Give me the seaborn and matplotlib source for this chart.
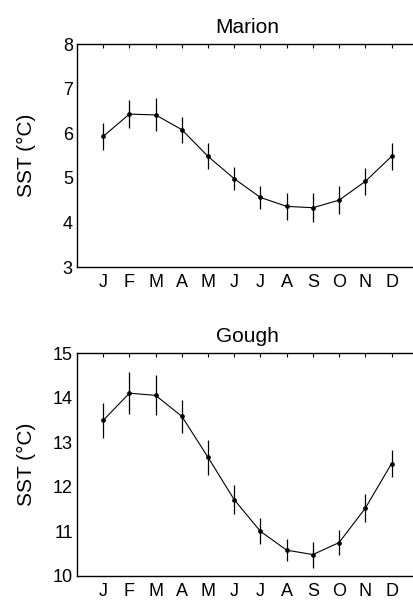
import numpy as np
import pandas as pd
import seaborn as sns
import matplotlib.pyplot as plt

# monthly mean SST and spread
months = ['J', 'F', 'M', 'A', 'M', 'J', 'J', 'A', 'S', 'O', 'N', 'D']
month_num = list(range(1, 13))

marion_sst = [5.93, 6.43, 6.41, 6.08, 5.48, 4.98, 4.56, 4.36, 4.33, 4.50, 4.92, 5.48]
marion_err = [0.31, 0.31, 0.37, 0.29, 0.29, 0.26, 0.25, 0.30, 0.32, 0.31, 0.30, 0.30]

gough_sst = [13.49, 14.10, 14.05, 13.58, 12.66, 11.71, 11.00, 10.58, 10.48, 10.75, 11.52, 12.52]
gough_err = [0.39, 0.47, 0.45, 0.37, 0.39, 0.32, 0.29, 0.25, 0.29, 0.29, 0.31, 0.31]

sns.set_style('white')
plt.rcParams['font.family'] = ['Liberation Sans', 'DejaVu Sans']
plt.rcParams['text.color'] = 'black'
plt.rcParams['axes.labelcolor'] = 'black'

fig = plt.figure(figsize=(4.14, 6.01), dpi=100)
ax1 = fig.add_axes([0.186, 0.5557, 0.823, 0.371])
ax2 = fig.add_axes([0.186, 0.0416, 0.823, 0.371])


def panel(ax, sst, err, title, ylim):
    df = pd.DataFrame({'month': month_num, 'sst': sst, 'err': err})
    ax.errorbar(df['month'], df['sst'], yerr=df['err'], fmt='none',
                ecolor='black', elinewidth=0.9, capsize=0)
    sns.lineplot(data=df, x='month', y='sst', ax=ax, color='black',
                 linewidth=0.8, marker='o', markersize=2.6,
                 markeredgecolor='black')
    ax.set_xlim(0, 13)
    ax.set_ylim(*ylim)
    ax.set_xticks(month_num)
    ax.set_xticklabels(months)
    ax.set_yticks(range(ylim[0], ylim[1] + 1))
    ax.tick_params(direction='in', top=True, right=True, length=3,
                   width=0.8, labelsize=13, colors='black', pad=3)
    ax.tick_params(axis='x', pad=5)
    for s in ax.spines.values():
        s.set_color('black')
        s.set_linewidth(1.0)
    ax.set_title(title, fontsize=15, pad=8, color='black')
    ax.set_xlabel('')
    ax.set_ylabel('SST (°C)', fontsize=15, color='black')
    ax.yaxis.set_label_coords(-0.12, 0.5)


panel(ax1, marion_sst, marion_err, 'Marion', (3, 8))
panel(ax2, gough_sst, gough_err, 'Gough', (10, 15))

fig.savefig('out.png', dpi=100)
